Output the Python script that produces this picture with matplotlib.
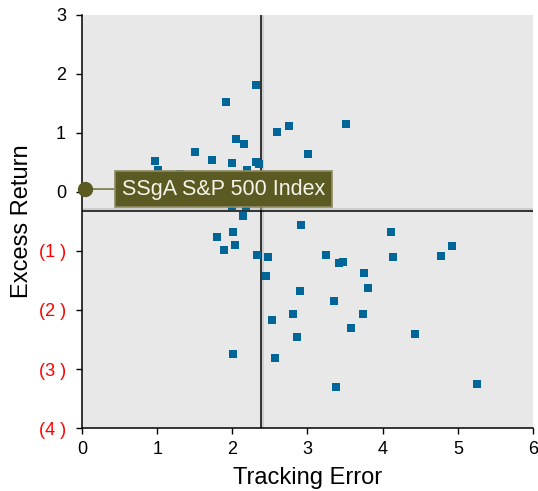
import matplotlib
matplotlib.use("Agg")
import matplotlib.pyplot as plt
import matplotlib.patheffects as pe

# === Données ===
tracking_error = [2.32, 1.91, 2.76, 3.51, 2.60, 2.05, 2.16, 1.51, 3.01, 1.73,
                  0.97, 1.99, 2.32, 2.36, 1.01, 2.20, 1.31, 3.25, 2.00, 2.18,
                  2.14, 2.92, 1.80, 2.01, 4.11, 1.89, 2.03, 4.92, 2.33, 2.48,
                  3.25, 3.42, 3.47, 4.14, 4.78, 2.45, 3.75, 3.81, 2.90, 3.35,
                  2.81, 3.74, 2.53, 3.58, 2.86, 4.43, 2.01, 2.57, 5.26, 3.38]
excess_return = [1.81, 1.52, 1.11, 1.16, 1.01, 0.89, 0.81, 0.67, 0.64, 0.55,
                 0.52, 0.49, 0.51, 0.47, 0.37, 0.38, 0.31, -0.19, -0.23, -0.24,
                 -0.41, -0.56, -0.76, -0.68, -0.67, -0.99, -0.90, -0.92, -1.07, -1.10,
                 -1.06, -1.21, -1.19, -1.11, -1.09, -1.43, -1.38, -1.62, -1.68, -1.85,
                 -2.07, -2.07, -2.17, -2.31, -2.45, -2.41, -2.75, -2.82, -3.26, -3.31]

index_name = "SSgA S&P 500 Index"
index_point = (0.04, 0.05)
avg_te = 2.38
avg_er = -0.32

x_ticks = [0, 1, 2, 3, 4, 5, 6]
y_ticks = [3, 2, 1, 0, -1, -2, -3, -4]
y_labels = ["3", "2", "1", "0", "(1 )", "(2 )", "(3 )", "(4 )"]

plt.rcParams["font.family"] = ["Liberation Sans", "DejaVu Sans"]

fig = plt.figure(figsize=(5.38, 4.91), dpi=100)
ax = fig.add_axes([0.1524, 0.1283, 0.8383, 0.8412])
ax.set_facecolor("#e8e8e8")

ax.set_xlim(0, 6)
ax.set_ylim(-4, 3)

# lignes de moyenne (avec petite ombre)
ax.axvline(avg_te, color="black", lw=1.1, zorder=2,
           path_effects=[pe.SimpleLineShadow(offset=(1.5, 0), shadow_color="#b0b0b0", alpha=0.6), pe.Normal()])
ax.axhline(avg_er, color="black", lw=1.1, zorder=2,
           path_effects=[pe.SimpleLineShadow(offset=(0, 1.5), shadow_color="#b0b0b0", alpha=0.6), pe.Normal()])

# fonds
ax.plot(tracking_error, excess_return, "s", color="#00669a", markersize=5.2,
        markeredgewidth=0, zorder=3)

# point indice + étiquette
ax.plot([index_point[0]], [index_point[1]], "o", color="#5b5a22", markersize=10,
        clip_on=False, zorder=6)
ax.annotate(index_name, xy=index_point, xytext=(0.53, index_point[1]),
            textcoords="data", va="center", ha="left", fontsize=15.5, color="#f4f4ea",
            bbox=dict(boxstyle="square,pad=0.33", fc="#5b5a22", ec="#8e8c62", lw=1.2),
            arrowprops=dict(arrowstyle="-", color="#7a7848", lw=1.2, shrinkA=0, shrinkB=0),
            zorder=5)

ax.set_xticks(x_ticks)
ax.set_yticks(y_ticks)
ax.set_yticklabels(y_labels)
for lab, v in zip(ax.get_yticklabels(), y_ticks):
    lab.set_color("red" if v < 0 else "black")

ax.tick_params(axis="both", direction="out", length=4.5, width=1, labelsize=13)
ax.tick_params(axis="y", pad=7)
ax.tick_params(axis="x", pad=5)

for s in ["top", "right"]:
    ax.spines[s].set_visible(False)
ax.spines["left"].set_linewidth(1.1)
ax.spines["bottom"].set_linewidth(1.1)

ax.set_xlabel("Tracking Error", fontsize=17, labelpad=6)
ax.set_ylabel("Excess Return", fontsize=17, labelpad=4)

fig.savefig("out.png", dpi=100)
